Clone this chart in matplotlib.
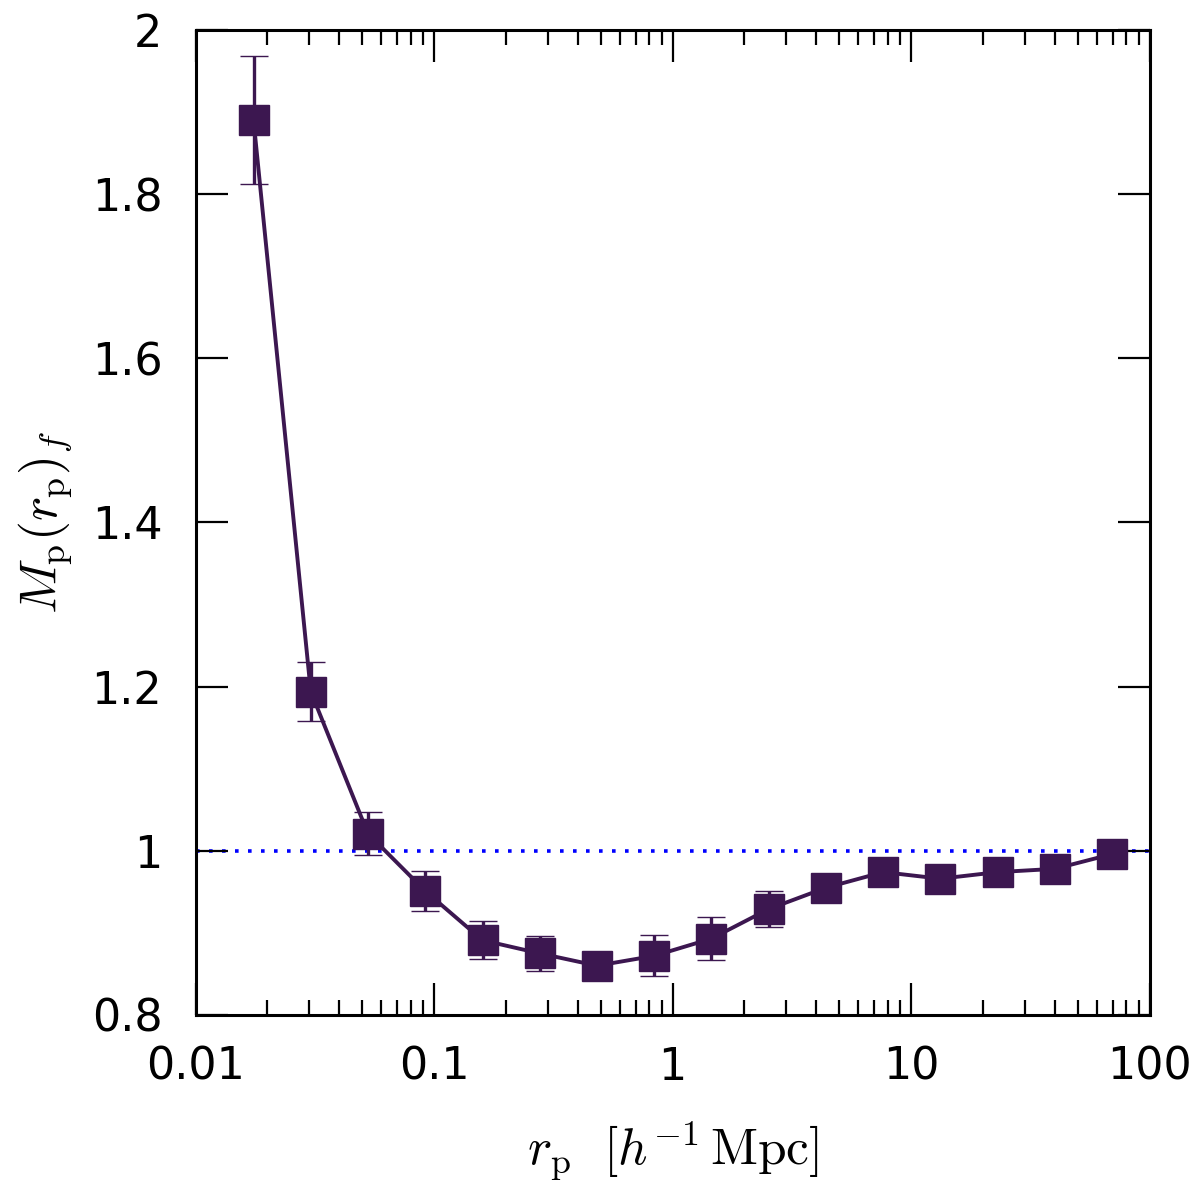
import matplotlib
matplotlib.use("Agg")
import matplotlib.pyplot as plt
import matplotlib.ticker as mticker

# ── Data ──────────────────────────────────────────────────────────────────────
rp = [0.0175, 0.0304, 0.0528, 0.0918, 0.1596, 0.2773, 0.4819, 0.8375,
      1.455, 2.529, 4.395, 7.638, 13.27, 23.07, 40.09, 69.66]
mp = [1.890, 1.194, 1.021, 0.951, 0.891, 0.875, 0.860, 0.872,
      0.893, 0.929, 0.955, 0.974, 0.966, 0.974, 0.978, 0.996]
mp_err = [0.078, 0.036, 0.026, 0.024, 0.023, 0.021, 0.014, 0.025,
          0.026, 0.022, 0.011, 0.010, 0.010, 0.010, 0.010, 0.010]

XTICKS = [0.01, 0.1, 1, 10, 100]
XTICKLABELS = ["0.01", "0.1", "1", "10", "100"]
YTICKS = [0.8, 1.0, 1.2, 1.4, 1.6, 1.8, 2.0]
YTICKLABELS = ["0.8", "1", "1.2", "1.4", "1.6", "1.8", "2"]

# ── Style ─────────────────────────────────────────────────────────────────────
plt.rcParams["font.family"] = ["DejaVu Sans"]
plt.rcParams["mathtext.fontset"] = "cm"
PURPLE = "#3c1750"

fig = plt.figure(figsize=(6, 5.99), dpi=200)
ax = fig.add_axes([0.163, 0.1528, 0.795, 0.8222])

ax.axhline(1.0, color="#0000ff", linewidth=1.3, linestyle=(0, (1, 2.6)), zorder=1)

ax.errorbar(rp, mp, yerr=mp_err, color=PURPLE, marker="s", markersize=10.5,
            markerfacecolor=PURPLE, markeredgecolor=PURPLE, markeredgewidth=0.5,
            linewidth=1.4, elinewidth=1.2, capsize=5, capthick=1.2, zorder=3)

ax.set_xscale("log")
ax.set_xlim(0.01, 100)
ax.set_ylim(0.8, 2.0)
ax.set_xticks(XTICKS)
ax.set_xticklabels(XTICKLABELS)
ax.set_yticks(YTICKS)
ax.set_yticklabels(YTICKLABELS)
ax.xaxis.set_minor_locator(mticker.LogLocator(base=10, subs=range(2, 10), numticks=20))
ax.xaxis.set_minor_formatter(mticker.NullFormatter())

ax.tick_params(which="both", direction="in", top=True, right=True, width=0.8)
ax.tick_params(which="major", length=11.5, labelsize=16)
ax.tick_params(which="minor", length=5.5)
ax.tick_params(axis="x", which="major", pad=11)
ax.tick_params(axis="y", which="major", pad=12)
for s in ax.spines.values():
    s.set_linewidth(1.1)

ax.set_xlabel(r"$r_{\rm p}\ \ [h^{-1}\,{\rm Mpc}]$", fontsize=18.5, labelpad=11)
ax.set_ylabel(r"$M_{\rm p}(r_{\rm p})_f$", fontsize=18.5, labelpad=6)

fig.savefig("out.png", dpi=200, facecolor="white")
plt.close(fig)
